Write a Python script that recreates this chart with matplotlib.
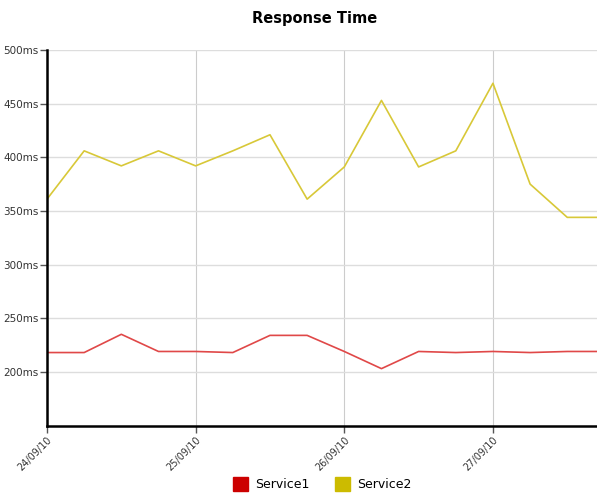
import datetime as dt
import matplotlib
matplotlib.use("Agg")
import matplotlib.pyplot as plt
import matplotlib.dates as mdates
from matplotlib.patches import Patch
from matplotlib.ticker import FixedLocator, FuncFormatter

# data, one point every 6 hours starting 24/09/10
start = dt.datetime(2010, 9, 24)
times = [start + dt.timedelta(hours=6 * i) for i in range(16)]
service1 = [218, 218, 235, 219, 219, 218, 234, 234, 219, 203, 219, 218, 219, 218, 219, 219]
service2 = [361, 406, 392, 406, 392, 406, 421, 361, 391, 453, 391, 406, 469, 375, 344, 344]
series_names = ["Service1", "Service2"]
y_ticks = [200, 250, 300, 350, 400, 450, 500]
legend_colors = ["#cc0000", "#ccbb00"]
line_colors = ["#e04848", "#d8c838"]

fig = plt.figure(figsize=(5.97, 4.93), dpi=100)
ax = fig.add_axes([47 / 597, 1 - 425.5 / 493, 1 - 47 / 597, (425.5 - 50) / 493])

ax.plot(times, service1, color=line_colors[0], lw=1.2)
ax.plot(times, service2, color=line_colors[1], lw=1.2)

ax.set_ylim(150, 500)
ax.set_xlim(start, start + dt.timedelta(days=3.7))

ax.yaxis.set_major_locator(FixedLocator(y_ticks))
ax.yaxis.set_major_formatter(FuncFormatter(lambda v, p: f"{v:.0f}ms"))
ax.xaxis.set_major_locator(mdates.DayLocator())
ax.xaxis.set_major_formatter(mdates.DateFormatter("%d/%m/%y"))

for s in ["top", "right"]:
    ax.spines[s].set_visible(False)
for s in ["left", "bottom"]:
    ax.spines[s].set_linewidth(1.8)
    ax.spines[s].set_color("black")

ax.grid(axis="y", color="#dddddd", lw=1)
ax.grid(axis="x", color="#cccccc", lw=0.8)
ax.set_axisbelow(True)

ax.tick_params(axis="y", length=5, width=1, color="#555555", labelsize=7.5,
               labelcolor="#333333", pad=1)
ax.tick_params(axis="x", length=5, width=1, color="#555555", labelsize=7,
               labelcolor="#333333", pad=2)
for lab in ax.get_xticklabels():
    lab.set_rotation(45)
    lab.set_ha("right")
    lab.set_rotation_mode("anchor")

fig.text(315 / 597, 1 - 18 / 493, "Response Time", ha="center", va="center",
         fontsize=10.5, fontweight="bold")

handles = [Patch(facecolor=c, edgecolor=c) for c in legend_colors]
fig.legend(handles, series_names, loc="center", bbox_to_anchor=(322 / 597, 1 - 484 / 493),
           ncol=2, frameon=False, fontsize=9, handlelength=1.2, handleheight=1.3,
           columnspacing=2.0, handletextpad=0.6)

fig.savefig("out.png", dpi=100)
